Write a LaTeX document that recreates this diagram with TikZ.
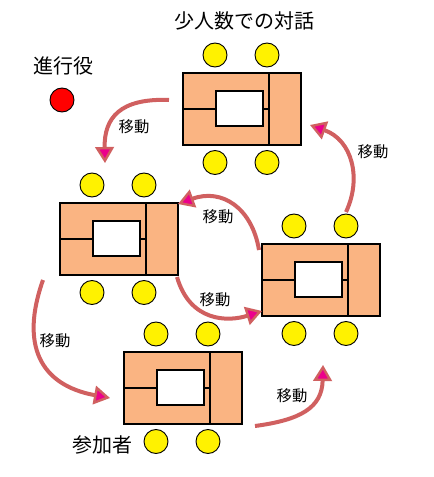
\documentclass[tikz,border=0pt]{standalone}
\usepackage{fontspec}
\newfontfamily\jp{Noto Sans CJK JP}
\usetikzlibrary{arrows.meta,calc}
\definecolor{tablecol}{RGB}{250,180,130}
\definecolor{arrowcol}{RGB}{208,96,96}
\begin{document}
\begin{tikzpicture}[x=0.75pt,y=-0.75pt,
  tablebox/.style={draw=black,line width=0.9pt,fill=tablecol,minimum width=88.5pt,minimum height=54pt,inner sep=0pt,outer sep=0pt,anchor=north west},
  screen/.style={draw=black,line width=0.9pt,fill=white,minimum width=35.25pt,minimum height=26.25pt,inner sep=0pt,outer sep=0pt,anchor=north west},
  chair/.style={circle,draw=black,line width=0.7pt,fill=yellow,minimum size=18pt,inner sep=0pt},
  leader/.style={circle,draw=black,line width=0.7pt,fill=red,minimum size=18pt,inner sep=0pt},
  bigtext/.style={font=\jp\fontsize{15pt}{15pt}\selectfont,inner sep=0pt},
  movetext/.style={font=\jp\fontsize{11.5pt}{11.5pt}\selectfont,inner sep=0pt},
  move/.style={draw=arrowcol,line width=3pt,-{Triangle[length=12pt,width=14pt,fill=magenta,line width=1.8pt]}}
]
\useasboundingbox (0,0) rectangle (433,477);
\fill[white] (0,0) rectangle (433,477);

\foreach \n/\x/\y in {1/183/73, 2/60/203, 3/262/244, 4/124/352} {
  \node[tablebox] (t\n) at (\x,\y) {};
  \node[screen] (s\n) at (\x+33,\y+18) {};
  \draw[line width=0.9pt] (\x+86,\y) -- (\x+86,\y+72);
  \draw[line width=0.9pt] (\x,\y+36) -- (\x+33,\y+36);
  \draw[line width=0.9pt] (\x+80,\y+36) -- (\x+86,\y+36);
  \node[chair] (c\n a) at (\x+32,\y-18) {};
  \node[chair] (c\n b) at (\x+84,\y-18) {};
  \node[chair] (c\n c) at (\x+32,\y+89.5) {};
  \node[chair] (c\n d) at (\x+84,\y+89.5) {};
}

\node[leader] (lead) at (62,100) {};
\node[bigtext] (title) at (244,21) {少人数での対話};
\node[bigtext] (leadlbl) at (63,66) {進行役};
\node[bigtext] (partlbl) at (102,445) {参加者};

\node[movetext] (m1) at (134,127) {移動};
\node[movetext] (m2) at (373,152) {移動};
\node[movetext] (m3) at (218,217) {移動};
\node[movetext] (m4) at (215,300) {移動};
\node[movetext] (m5) at (55,341) {移動};
\node[movetext] (m6) at (292,396) {移動};

\coordinate (a1s) at (169,100);
\coordinate (a1e) at (105,163);
\coordinate (a2s) at (346,212);
\coordinate (a2e) at (310,125);
\coordinate (a3s) at (259,250);
\coordinate (a3e) at (178,204);
\coordinate (a4s) at (177,277);
\coordinate (a4e) at (262,311);
\coordinate (a5s) at (43,280);
\coordinate (a5e) at (110,398);
\coordinate (a6s) at (255,426);
\coordinate (a6e) at (323,365);

\draw[move] (a1s) .. controls (120,98) and (104,118) .. (a1e);
\draw[move] (a2s) .. controls (362,178) and (352,140) .. (a2e);
\draw[move] (a3s) .. controls (252,208) and (222,188) .. (a3e);
\draw[move] (a4s) .. controls (190,322) and (228,322) .. (a4e);
\draw[move] (a5s) .. controls (20,345) and (40,385) .. (a5e);
\draw[move] (a6s) .. controls (300,420) and (322,408) .. (a6e);
\end{tikzpicture}
\end{document}
